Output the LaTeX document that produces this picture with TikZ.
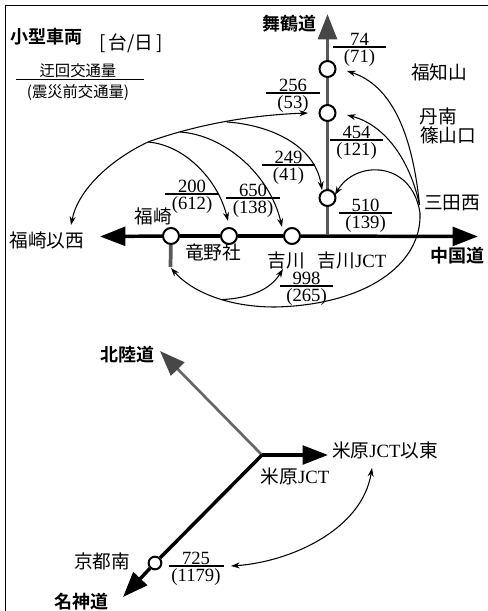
\documentclass[tikz,border=0pt]{standalone}
\usepackage{fontspec}
\usetikzlibrary{arrows.meta}
\setmainfont{Liberation Serif}
\newfontfamily\cjk{Noto Sans CJK JP}
\newfontfamily\cjkb{Noto Sans CJK JP Bold}
\newcommand{\fracl}[6]{%
  \node[numtext,anchor=south] (#1t) at (#2,#3-1.5) {#5};
  \node[numtext,anchor=north] (#1b) at (#2,#3+2.5) {#6};
  \coordinate (#1l) at (#2-#4/2,#3);
  \coordinate (#1r) at (#2+#4/2,#3);
  \draw[fracline] (#1l) -- (#1r);}
\newcommand{\jct}{{\rmfamily JCT}}
\tikzset{
  numtext/.style={inner sep=0pt,font=\fontsize{14}{14}\selectfont},
  lab/.style={inner sep=0pt,font=\cjk\fontsize{14}{14}\selectfont},
  labb/.style={inner sep=0pt,font=\cjkb\fontsize{13.5}{14}\selectfont},
  small/.style={inner sep=0pt,font=\cjk\fontsize{11.5}{12}\selectfont},
  fracline/.style={line width=0.8pt},
  ic/.style={circle,draw=black,fill=white,line width=1.5pt,minimum size=12pt,inner sep=0pt},
  roadk/.style={line width=2.6pt,black},
  roadg/.style={line width=2.8pt,black!65},
  roadn/.style={line width=2pt,black!60},
  flow/.style={line width=0.8pt,-{Stealth[length=6.5pt,width=4.5pt]}},
  flowb/.style={line width=0.8pt,{Stealth[length=6.5pt,width=4.5pt]}-{Stealth[length=6.5pt,width=4.5pt]}},
  bigk/.style={-{Triangle[length=19pt,width=14pt]}},
  bigg/.style={-{Triangle[length=19pt,width=14pt,fill=black!72,color=black!72]}},
}
\begin{document}
\begin{tikzpicture}[x=0.75pt,y=-0.75pt]
\useasboundingbox (0,0) rectangle (488,611);
% frame
\coordinate (fa) at (5.5,611);
\coordinate (fb) at (5.5,5.5);
\coordinate (fc) at (488,5.5);
\draw[line width=1.3pt] (fa) -- (fb) -- (fc);
% interchanges
\node[ic] (fuk) at (171,236) {};
\node[ic] (tat) at (229,236) {};
\node[ic] (yok) at (292,236) {};
\node[ic] (jct) at (327.5,198) {};
\node[ic] (tan) at (327.5,113) {};
\node[ic] (fch) at (327.5,69) {};
\node[ic,minimum size=9.5pt] (kyo) at (155,563) {};
% road ends
\coordinate (wtip) at (100,236.5);
\coordinate (etip) at (478,236.5);
\coordinate (ntip) at (327.5,14);
\coordinate (jgnd) at (327.5,234);
\coordinate (stub) at (170.5,267);
\coordinate (mai) at (262,455);
\coordinate (hok) at (160,351);
\coordinate (ets) at (328,455);
\coordinate (mei) at (123,597);
% roads
\draw[roadk,bigk] (fuk) -- (wtip);
\draw[roadk] (fuk) -- (tat);
\draw[roadk] (tat) -- (yok);
\draw[roadk,bigk] (yok) -- (etip);
\draw[roadg] (jct) -- (jgnd);
\draw[roadg] (jct) -- (tan);
\draw[roadg] (tan) -- (fch);
\draw[roadg,bigg] (fch) -- (ntip);
\draw[roadg] (fuk) -- (stub);
\draw[roadn,bigg] (mai) -- (hok);
\draw[roadk,bigk] (mai) -- (ets);
\draw[roadk] (mai) -- (kyo);
\draw[roadk,bigk] (kyo) -- (mei);
% flow anchor points
\coordinate (san) at (420,213);
\coordinate (sant) at (419.5,205);
\coordinate (a1) at (347,71);
\coordinate (a2) at (347,115);
\coordinate (a3) at (335,195);
\coordinate (b0) at (308,113);
\coordinate (b1) at (227,122);
\coordinate (b2) at (180,132);
\coordinate (b3) at (148,142);
\coordinate (bw) at (71,225);
\coordinate (ct) at (228,221);
\coordinate (cy) at (282,227);
\coordinate (cj) at (322,190);
\coordinate (d0) at (275,307);
\coordinate (d1) at (222,299.6);
\coordinate (dy) at (283,269);
\coordinate (ds) at (171,268);
\coordinate (e1) at (231,566);
\coordinate (e2) at (372,468);
% flows
\draw[flow] (sant) .. controls (412,130) and (390,85) .. (a1);
\draw[flow] (sant) .. controls (410,160) and (385,125) .. (a2);
\draw[flow] (san) .. controls (412,160) and (355,160) .. (a3);
\draw[flow] (b3) .. controls (195,125) and (250,115) .. (b0);
\draw[flow] (b3) .. controls (110,160) and (78,190) .. (bw);
\draw[flow] (b3) .. controls (185,145) and (218,180) .. (ct);
\draw[flow] (b2) .. controls (225,135) and (270,175) .. (cy);
\draw[flow] (b1) .. controls (270,125) and (315,145) .. (cj);
\draw[line width=0.8pt] (san) .. controls (422,265) and (365,305) .. (d0);
\draw[flow] (d0) .. controls (225,307) and (190,290) .. (ds);
\draw[flow] (d1) .. controls (250,298) and (270,290) .. (dy);
\draw[flowb] (e1) .. controls (290,562) and (362,530) .. (e2);
% fractions
\fracl{p}{359.5}{47}{53}{74}{(71)}
\fracl{q}{293}{93}{54}{256}{(53)}
\fracl{r}{356.5}{140}{53}{454}{(121)}
\fracl{s}{288.5}{165}{53}{249}{(41)}
\fracl{t}{192}{194}{54}{200}{(612)}
\fracl{u}{253}{198}{54}{650}{(138)}
\fracl{v}{365.5}{213}{53}{510}{(139)}
\fracl{w}{306.5}{286}{53}{998}{(265)}
\fracl{x}{196}{566}{55}{725}{(1179)}
% legend
\node[labb] (ttl) at (47,37) {小型車両};
\node[lab,font=\cjk\fontsize{14}{14}\selectfont] (unit) at (131,43) {[\,台/日\,]};
\node[small] (leg1) at (78,71) {迂回交通量};
\coordinate (lgl) at (16,79.5);
\coordinate (lgr) at (144,79.5);
\draw[fracline] (lgl) -- (lgr);
\node[small] (leg2) at (78,93) {(震災前交通量)};
% labels
\node[labb] (mz) at (289,24) {舞鶴道};
\node[lab] (n1) at (439,72) {福知山};
\node[lab] (n2) at (438,116) {丹南};
\node[lab] (n3) at (448,135) {篠山口};
\node[lab] (n4) at (452,203) {三田西};
\node[lab] (n5) at (153,216) {福崎};
\node[lab] (n6) at (47,240) {福崎以西};
\node[lab] (n7) at (213,252) {竜野社};
\node[lab] (n8) at (286,260) {吉川};
\node[lab] (n9) at (352,260) {吉川\jct};
\node[labb] (n10) at (457,256) {中国道};
\node[labb] (n11) at (127,355) {北陸道};
\node[lab] (n12) at (385,450) {米原\jct 以東};
\node[lab] (n13) at (295,476) {米原\jct};
\node[lab] (n14) at (102,561) {京都南};
\node[labb] (n15) at (81,602) {名神道};
\end{tikzpicture}
\end{document}
